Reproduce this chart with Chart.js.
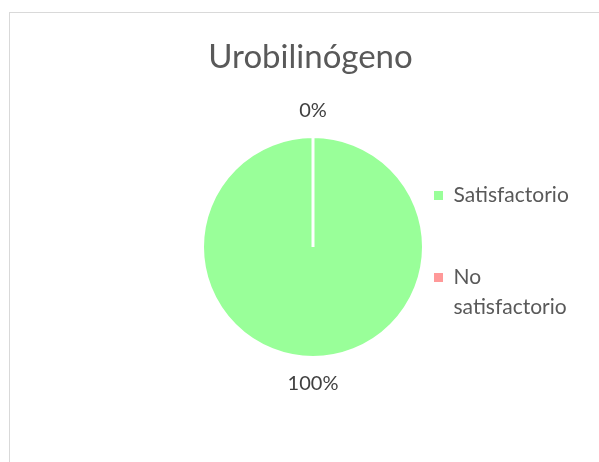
<!DOCTYPE html>
<html><head><meta charset="utf-8">
<script src="https://cdn.jsdelivr.net/npm/chart.js@4.4.1/dist/chart.umd.min.js"></script>
<style>
html,body{margin:0;padding:0;background:#fff;overflow:hidden;width:599px;height:462px;}
#frame{position:absolute;left:9px;top:12px;width:700px;height:600px;border-top:1px solid #d9d9d9;border-left:1px solid #d9d9d9;box-sizing:border-box;}
#wrap{position:absolute;left:0;top:0;width:599px;height:462px;}
</style></head><body>
<div id="frame"></div>
<div id="wrap"><canvas id="c" width="599" height="462"></canvas></div>
<script>
// ---- data ----
const chartTitle = 'Urobilinógeno';
const categories = ['Satisfactorio', 'No satisfactorio'];
const values = [100, 0];
const sliceColors = ['#99ff99', '#ff9999'];

// ---- style / layout constants ----
const FONT = 'Lato';
const LEG_SIZE = 21, LEG_LINE = 30, LEG_PAD = 61, LEG_BOX = 9;
const TITLE_SIZE = 33;
const PIE_RADIUS = 110.5, BORDER_W = 3;
const AREA_TOP = 106, AREA_BOTTOM = 388, AREA_RIGHT = 373, PIE_CX = 313, TITLE_CX = 310.5;
const W = 599, H = 462;

function wrapLabel(t) { return t.indexOf(' ') >= 0 ? t.split(' ') : t; }

// measure legend text as Chart.js does
const mctx = document.createElement('canvas').getContext('2d');
mctx.font = LEG_SIZE + 'px ' + FONT;
let tw = 0;
categories.forEach(c => {
  let t = wrapLabel(c);
  if (typeof t !== 'string') t = t.reduce((a, b) => a.length > b.length ? a : b);
  tw = Math.max(tw, mctx.measureText(t).width);
});
const legendWidth = LEG_PAD + LEG_BOX + LEG_SIZE / 2 + tw + 10;
const padR = W - AREA_RIGHT - legendWidth;
const padL = 2 * TITLE_CX - W + padR;
const areaLeft = 2 * PIE_CX - AREA_RIGHT;
const spacerW = areaLeft - padL;

const spacerPlugin = {
  id: 'leftSpacer',
  beforeInit(chart) {
    const box = {
      position: 'left', weight: -10, fullSize: false, options: {},
      left: 0, top: 0, right: 0, bottom: 0, width: 0, height: 0,
      update(maxWidth, maxHeight) { this.width = spacerW; this.height = maxHeight; },
      isHorizontal() { return false; },
      draw() {}
    };
    Chart.layouts.addBox(chart, box);
  }
};

const pctLabels = {
  id: 'pctLabels',
  afterDatasetsDraw(chart) {
    const meta = chart.getDatasetMeta(0);
    const data = chart.data.datasets[0].data;
    const total = data.reduce((a, b) => a + b, 0);
    const ctx = chart.ctx;
    ctx.save();
    ctx.font = '20px ' + FONT;
    ctx.fillStyle = '#404040';
    ctx.textAlign = 'center';
    ctx.textBaseline = 'middle';
    meta.data.forEach((arc, i) => {
      const p = arc.getProps(['x', 'y', 'startAngle', 'endAngle', 'outerRadius'], true);
      const mid = (p.startAngle + p.endAngle) / 2;
      const r = p.outerRadius + 26;
      ctx.fillText(Math.round(data[i] / total * 100) + '%', p.x + Math.cos(mid) * r, p.y + Math.sin(mid) * r);
    });
    ctx.restore();
  }
};

new Chart(document.getElementById('c'), {
  type: 'pie',
  data: {
    labels: categories,
    datasets: [{
      data: values,
      backgroundColor: sliceColors,
      borderColor: '#ffffff',
      borderWidth: BORDER_W,
      radius: PIE_RADIUS,
      clip: false
    }]
  },
  plugins: [spacerPlugin, pctLabels],
  options: {
    responsive: false,
    animation: false,
    devicePixelRatio: 1,
    layout: { padding: { top: 0, left: padL, right: padR, bottom: H - AREA_BOTTOM } },
    plugins: {
      title: {
        display: true,
        text: chartTitle,
        color: '#595959',
        font: { family: FONT, size: TITLE_SIZE, weight: 'normal', lineHeight: 1.2 },
        padding: { top: 57.5 - TITLE_SIZE * 0.6, bottom: AREA_TOP - 57.5 - TITLE_SIZE * 0.6 }
      },
      legend: {
        position: 'right',
        align: 'end',
        fullSize: false,
        maxWidth: legendWidth + 1,
        labels: {
          boxWidth: LEG_BOX,
          boxHeight: LEG_BOX,
          padding: LEG_PAD,
          color: '#595959',
          font: { family: FONT, size: LEG_SIZE, lineHeight: LEG_LINE / LEG_SIZE },
          generateLabels(chart) {
            const items = Chart.overrides.pie.plugins.legend.labels.generateLabels(chart);
            return items.map(it => Object.assign(it, { text: wrapLabel(it.text), lineWidth: 0 }));
          }
        }
      },
      tooltip: { enabled: false }
    }
  }
});
</script>
</body></html>
